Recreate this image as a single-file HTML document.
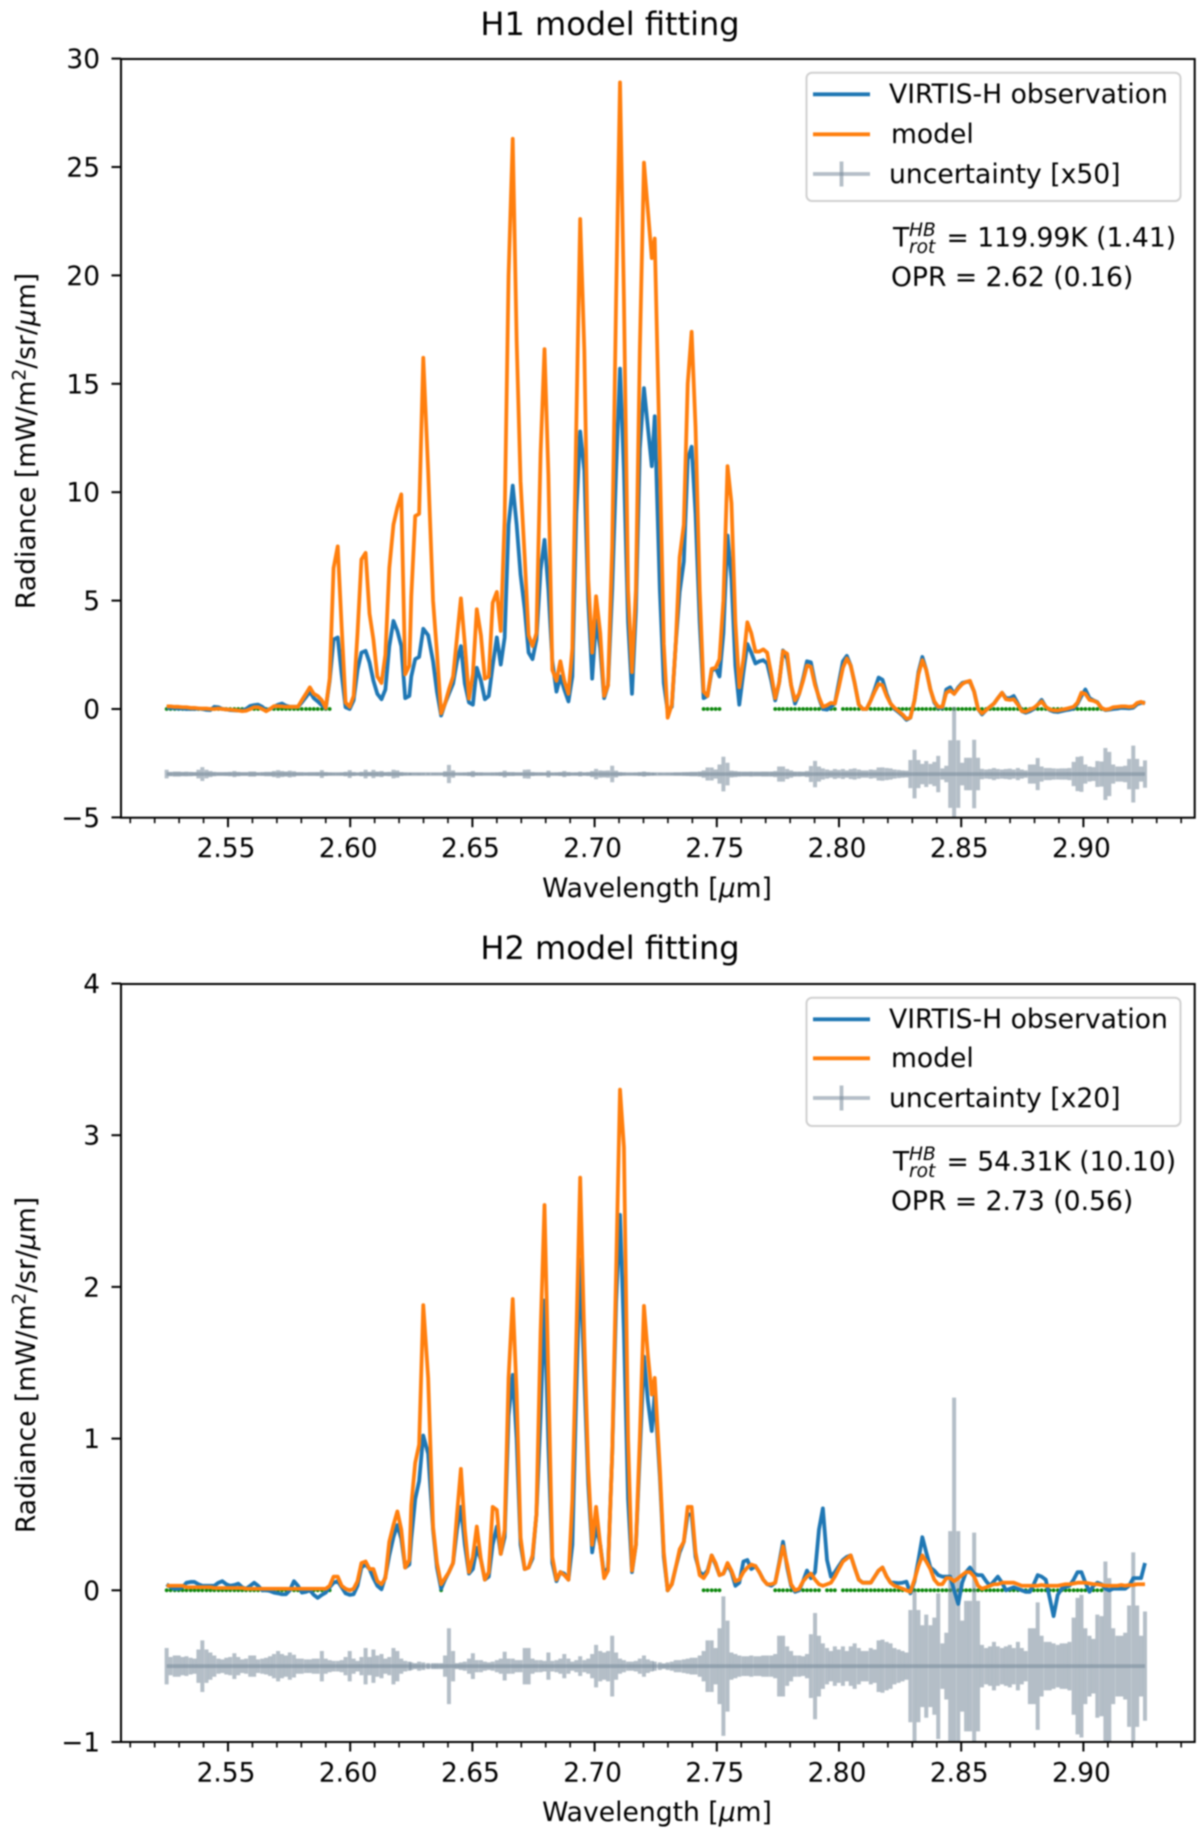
<!DOCTYPE html>
<html lang="en">
<head>
<meta charset="utf-8">
<title>H1 and H2 model fitting</title>
<style>
html,body{margin:0;padding:0;background:#fff;}
body{width:1200px;height:1840px;overflow:hidden;}
svg{display:block;filter:blur(0.7px);}
text{font-family:"DejaVu Sans","Liberation Sans",sans-serif;fill:#000;}
.tick-label{font-size:26.4px;}
.axis-label,.legend-text,.note{font-size:26.6px;}
.panel-title{font-size:32px;}
.sup{font-size:18.6px;font-style:italic;}
</style>
</head>
<body>
<svg id="figure" width="1200" height="1840" viewBox="0 0 1200 1840" xmlns="http://www.w3.org/2000/svg">
  <rect x="0" y="0" width="1200" height="1840" fill="#ffffff"/>
  <defs>
    <clipPath id="clip-h1"><rect x="121" y="59" width="1073.7" height="758.7"/></clipPath>
    <clipPath id="clip-h2"><rect x="121" y="984" width="1073.7" height="758"/></clipPath>
  </defs>

  <g id="panel-h1">
    <text class="panel-title" x="610" y="35" text-anchor="middle">H1 model fitting</text>
    <g id="h1-marks" clip-path="url(#clip-h1)"></g>
    <g id="h1-ticks"></g>
    <rect x="121" y="59" width="1073.7" height="758.7" fill="none" stroke="#000" stroke-width="2"/>
    <text class="axis-label" x="657" y="897" text-anchor="middle">Wavelength [<tspan font-style="italic">μ</tspan>m]</text>
    <text class="axis-label" transform="translate(35,441) rotate(-90)" text-anchor="middle">Radiance [mW/m<tspan dy="-9.5" font-size="18.6">2</tspan><tspan dy="9.5">/sr/</tspan><tspan font-style="italic">μ</tspan>m]</text>
    <g>
      <rect x="806.5" y="72.7" width="374" height="128.3" rx="5.5" ry="5.5" fill="#fff" stroke="#d0d0d0" stroke-width="2"/>
      <line x1="813" y1="94.3" x2="870" y2="94.3" stroke="#1f77b4" stroke-width="3.8"/>
      <text class="legend-text" x="889" y="103">VIRTIS-H observation</text>
      <line x1="813" y1="134.3" x2="870" y2="134.3" stroke="#ff7f0e" stroke-width="3.8"/>
      <text class="legend-text" x="891" y="143">model</text>
      <g stroke="#778899" stroke-opacity="0.55" stroke-width="3.8">
        <line x1="813" y1="174" x2="870" y2="174"/>
        <line x1="841.5" y1="161.5" x2="841.5" y2="186.5"/>
      </g>
      <text class="legend-text" x="889" y="183">uncertainty [x50]</text>
    </g>
    <g>
      <text class="note" x="893" y="246.5">T</text>
      <text class="sup" x="909" y="236">HB</text>
      <text class="sup" x="909" y="253">rot</text>
      <text class="note" x="946.5" y="246.5">= 119.99K (1.41)</text>
    </g>
    <text class="note" x="891" y="286">OPR = 2.62 (0.16)</text>
  </g>

  <g id="panel-h2">
    <text class="panel-title" x="610" y="959" text-anchor="middle">H2 model fitting</text>
    <g id="h2-marks" clip-path="url(#clip-h2)"></g>
    <g id="h2-ticks"></g>
    <rect x="121" y="984" width="1073.7" height="758" fill="none" stroke="#000" stroke-width="2"/>
    <text class="axis-label" x="657" y="1821" text-anchor="middle">Wavelength [<tspan font-style="italic">μ</tspan>m]</text>
    <text class="axis-label" transform="translate(35,1365) rotate(-90)" text-anchor="middle">Radiance [mW/m<tspan dy="-9.5" font-size="18.6">2</tspan><tspan dy="9.5">/sr/</tspan><tspan font-style="italic">μ</tspan>m]</text>
    <g>
      <rect x="806.5" y="997.7" width="374" height="128.3" rx="5.5" ry="5.5" fill="#fff" stroke="#d0d0d0" stroke-width="2"/>
      <line x1="813" y1="1019.3" x2="870" y2="1019.3" stroke="#1f77b4" stroke-width="3.8"/>
      <text class="legend-text" x="889" y="1028">VIRTIS-H observation</text>
      <line x1="813" y1="1058.3" x2="870" y2="1058.3" stroke="#ff7f0e" stroke-width="3.8"/>
      <text class="legend-text" x="891" y="1067">model</text>
      <g stroke="#778899" stroke-opacity="0.55" stroke-width="3.8">
        <line x1="813" y1="1098" x2="870" y2="1098"/>
        <line x1="841.5" y1="1085.5" x2="841.5" y2="1110.5"/>
      </g>
      <text class="legend-text" x="889" y="1107">uncertainty [x20]</text>
    </g>
    <g>
      <text class="note" x="893" y="1170.5">T</text>
      <text class="sup" x="909" y="1160">HB</text>
      <text class="sup" x="909" y="1177">rot</text>
      <text class="note" x="946.5" y="1170.5">= 54.31K (10.10)</text>
    </g>
    <text class="note" x="891" y="1210">OPR = 2.73 (0.56)</text>
  </g>
</svg>

<script>
const wavelengths = [
2.5249,2.5265,2.5282,2.5298,2.5314,2.5330,2.5347,2.5363,2.5379,2.5395,
2.5412,2.5428,2.5444,2.5461,2.5477,2.5493,2.5509,2.5526,2.5542,2.5558,
2.5574,2.5591,2.5607,2.5623,2.5640,2.5656,2.5672,2.5688,2.5705,2.5721,
2.5737,2.5753,2.5770,2.5786,2.5802,2.5819,2.5835,2.5851,2.5867,2.5884,
2.5900,2.5916,2.5932,2.5949,2.5965,2.5981,2.5998,2.6014,2.6030,2.6046,
2.6063,2.6079,2.6095,2.6111,2.6128,2.6144,2.6160,2.6177,2.6193,2.6209,
2.6225,2.6242,2.6250,2.6266,2.6282,2.6299,2.6319,2.6339,2.6355,2.6372,
2.6388,2.6404,2.6421,2.6437,2.6453,2.6469,2.6486,2.6502,2.6518,2.6535,
2.6551,2.6567,2.6583,2.6600,2.6616,2.6632,2.6648,2.6665,2.6681,2.6697,
2.6714,2.6730,2.6746,2.6762,2.6779,2.6795,2.6811,2.6827,2.6844,2.6860,
2.6876,2.6893,2.6909,2.6925,2.6941,2.6958,2.6974,2.6990,2.7006,2.7023,
2.7039,2.7055,2.7072,2.7088,2.7104,2.7120,2.7137,2.7153,2.7169,2.7185,
2.7202,2.7218,2.7234,2.7246,2.7267,2.7283,2.7299,2.7316,2.7332,2.7348,
2.7365,2.7381,2.7397,2.7413,2.7430,2.7446,2.7462,2.7479,2.7495,2.7511,
2.7527,2.7544,2.7560,2.7576,2.7592,2.7609,2.7625,2.7641,2.7658,2.7674,
2.7690,2.7706,2.7723,2.7739,2.7755,2.7771,2.7788,2.7804,2.7820,2.7837,
2.7853,2.7869,2.7885,2.7902,2.7918,2.7934,2.7951,2.7967,2.7983,2.7999,
2.8016,2.8032,2.8048,2.8064,2.8081,2.8097,2.8113,2.8130,2.8146,2.8162,
2.8178,2.8195,2.8211,2.8227,2.8244,2.8260,2.8276,2.8292,2.8309,2.8325,
2.8341,2.8357,2.8374,2.8390,2.8406,2.8423,2.8439,2.8455,2.8471,2.8488,
2.8504,2.8520,2.8536,2.8553,2.8569,2.8585,2.8602,2.8618,2.8634,2.8650,
2.8667,2.8683,2.8699,2.8715,2.8732,2.8748,2.8764,2.8781,2.8797,2.8813,
2.8829,2.8846,2.8862,2.8878,2.8895,2.8911,2.8927,2.8943,2.8960,2.8976,
2.8992,2.9008,2.9025,2.9041,2.9057,2.9074,2.9090,2.9106,2.9122,2.9139,
2.9155,2.9171,2.9187,2.9204,2.9220,2.9236,2.9252];

const h1Observation = [
.06,.05,.04,.02,.02,0,0,0,.02,0,
-.04,-.05,.1,.08,0,-.02,-.05,-.06,-.07,-.06,
0,.14,.18,.2,.1,-.05,0,.1,.2,.25,
.15,.1,.1,.1,.3,.55,.8,.5,.35,.17,
.03,1.3,3.2,3.3,1.6,.08,0,.4,1.8,2.6,
2.68,2.15,1.3,.7,.45,.9,2.9,4.06,3.6,2.9,
.5,.6,1.5,2.3,2.4,3.7,3.4,2.2,.8,-.3,
.25,.7,1.17,2.2,2.9,1.17,.3,.2,1.9,1.3,
.45,.6,2,3.3,2.05,3.3,8.5,10.3,8.5,6.2,
4.6,2.6,2.3,3.2,6.4,7.8,5.5,2.2,.8,1.5,
.9,.35,1.5,9,12.8,11,5,1.4,4.1,2.8,
.5,1.1,5.5,11,15.7,11,4,.7,4.5,12,
14.8,13,11.2,13.5,5.5,1.2,-.1,.1,3,5.4,
6.8,11.5,12.1,9,4,.5,.6,1.75,1.9,1.5,
3.5,8,6,2,.2,1.7,3,2.6,2.1,2.2,
2.25,2.1,1.3,.4,1.2,2.7,2.3,1.1,.25,.7,
1.4,2.2,2.15,1.2,.5,0,-.03,.1,.25,1.2,
2.2,2.45,2,1.2,.2,0,0,.4,.9,1.45,
1.35,.7,.25,0,-.15,-.3,-.5,-.4,.4,1.7,
2.4,1.8,.9,.3,.05,.05,.9,1,.7,1,
1.2,1.25,1.25,.8,0,-.25,-.05,.1,.25,.5,
.75,.5,.5,.6,.25,-.1,-.17,-.1,0,.2,
.42,.1,-.05,-.12,-.14,-.1,-.06,-.03,.02,.25,
.6,.9,.5,.4,.32,.05,-.05,-.03,0,.02,
.05,.04,.03,.06,.22,.28,.3];

const h1Model = [
.12,.12,.1,.1,.08,.08,.05,.05,.03,.02,
.02,0,0,.02,0,-.02,-.03,-.05,-.07,-.1,
-.08,0,.08,.08,0,-.1,0,.13,.13,.12,
.1,.1,.1,.1,.4,.7,1,.7,.6,.4,
.05,1.4,6.5,7.5,3.8,.3,.1,.6,3.5,6.9,
7.2,4.4,3.2,1.5,1.2,2.5,6.5,8.5,9.3,9.9,
1.6,2,5.2,8.9,9,16.2,11,5,2.6,-.2,
.25,.9,1.5,3.3,5.1,3,.48,1.6,4.6,3.4,
1.4,1.5,4.9,5.4,3.6,8.8,20,26.3,17,10.5,
7,3.4,2.9,3.5,11.8,16.6,10.8,1.8,1.3,2.2,
1.3,.7,2.8,13,22.6,16.5,6,2.6,5.2,3.5,
.6,1.1,7.5,18.9,28.9,18.9,5.5,1.7,5.5,16.5,
25.2,23,20.8,21.7,11.5,3,-.4,.2,3,7,
8.5,15,17.4,13,5.5,.8,.6,1.85,1.9,2.3,
5,11.2,9.5,4,1,2.3,4,3.5,2.65,2.65,
2.75,2.6,1.6,.5,1.2,2.67,2.55,1.1,.4,.7,
1.3,2,1.95,1.1,.55,.1,.17,.28,.25,1,
1.9,2.33,2,1.2,.2,0,0,.4,.8,1.15,
1.1,.6,.25,.05,-.1,-.25,-.45,-.4,.4,1.6,
2.25,1.8,.9,.35,.1,.1,.75,.85,.7,.95,
1.15,1.25,1.3,.8,0,-.2,-.05,.1,.25,.5,
.75,.45,.42,.45,.2,-.1,-.12,-.03,.05,.2,
.35,.1,-.02,-.06,-.07,-.03,0,.05,.1,.3,
.75,.7,.42,.38,.3,.05,-.03,0,.08,.1,
.12,.12,.1,.12,.28,.33,.25];

/* half-height of each error bar in plotted units, already multiplied by 50 */
const h1Uncertainty = [
.2,.1,.12,.12,.1,.11,.1,.09,.2,.32,
.2,.14,.1,.08,.08,.09,.1,.14,.1,.08,
.08,.12,.12,.07,.08,.1,.1,.14,.18,.14,
.12,.16,.13,.08,.08,.07,.08,.08,.09,.18,
.09,.07,.06,.06,.07,.1,.18,.09,.06,.1,
.2,.1,.19,.12,.14,.09,.1,.2,.17,.09,
.06,.05,.04,.04,.05,.04,.04,.04,.04,.04,
.13,.42,.17,.04,.05,.06,.09,.14,.07,.07,
.05,.05,.06,.07,.09,.16,.09,.09,.07,.07,
.2,.21,.09,.07,.07,.06,.16,.06,.07,.09,
.14,.09,.06,.07,.11,.07,.09,.14,.24,.17,
.16,.17,.38,.16,.09,.07,.05,.05,.06,.09,
.12,.08,.06,.05,.04,.03,.04,.05,.07,.07,
.08,.09,.1,.1,.12,.17,.3,.3,.21,.44,
.8,.52,.16,.14,.12,.11,.11,.12,.11,.11,
.12,.12,.12,.14,.35,.35,.23,.17,.12,.12,
.11,.14,.37,.61,.35,.26,.21,.17,.23,.19,
.23,.17,.23,.26,.21,.17,.17,.21,.19,.3,
.31,.28,.26,.21,.19,.17,.16,.65,1.12,.65,
.47,.6,.47,.56,.84,.26,.38,1.56,3.1,1.56,
.52,.75,.75,1.58,.75,.24,.21,.23,.28,.23,
.21,.23,.25,.21,.28,.21,.17,.44,.44,.74,
.35,.28,.28,.26,.25,.26,.26,.28,.56,.79,
.82,.44,.35,.32,.6,.58,1.2,1.02,.44,.35,
.35,.38,.7,1.31,.7,.35,.63];

const h1MaskRanges = [[2.5245,2.5920],[2.7295,2.7303],[2.7442,2.7515],[2.7735,2.7987],[2.8012,2.9078]];
const h1YTicks = [-5,0,5,10,15,20,25,30];
const h1YTickLabels = ['−5','0','5','10','15','20','25','30'];

const h2Observation = [
.04,.02,.01,.01,.02,.05,.055,.055,.04,.03,
.03,.03,.03,.05,.06,.04,.03,.035,.044,.02,
.01,.03,.05,.03,0,0,-.005,-.015,-.02,-.026,
-.026,0,.06,.03,-.015,-.01,0,-.03,-.05,-.03,
-.015,.02,.05,.06,.02,-.02,-.03,-.026,.03,.15,
.17,.14,.08,.03,.007,.09,.23,.35,.43,.34,
.15,.17,.34,.6,.72,1.02,.9,.4,.15,.01,
.07,.12,.18,.4,.55,.3,.11,.14,.28,.2,
.07,.09,.3,.42,.24,.35,1.15,1.42,1,.3,
.14,.15,.21,.5,1.15,1.91,.95,.18,.06,.12,
.11,.07,.3,1.3,2.18,1.4,.7,.25,.42,.3,
.1,.15,.9,1.9,2.475,1.7,.6,.12,.3,.9,
1.54,1.25,1.05,1.3,.75,.22,0,.04,.15,.25,
.32,.5,.5,.22,.12,.1,.13,.23,.17,.1,
.11,.17,.12,.03,.05,.19,.2,.14,.16,.12,
.07,.04,.03,.05,.18,.32,.15,.03,-.01,0,
.06,.13,.08,.12,.4,.54,.2,.09,.12,.16,
.2,.22,.23,.15,.07,.05,.05,.05,.09,.13,
.15,.09,.05,.05,.047,.05,.057,-.02,.06,.2,
.35,.25,.15,.13,.1,.09,.09,.09,0,-.09,
.05,.12,.15,.11,.1,.1,.06,.03,.06,.09,
.05,0,.01,.02,.01,0,-.01,-.01,.04,.1,
.09,.07,-.05,-.17,-.03,.01,.02,.03,.07,.12,
.12,.05,-.01,.03,.05,.04,.01,0,.01,.01,
.01,.01,.03,.08,.08,.08,.18];

const h2Model = [
.03,.03,.03,.03,.03,.02,.02,.02,.02,.02,
.02,.02,.015,.015,.015,.015,.015,.015,.015,.015,
.01,.01,.01,.01,.01,.01,.01,.01,.01,.01,
.01,.01,.01,.01,.01,.01,.01,.01,.01,.01,
.01,.03,.09,.09,.03,.01,0,.01,.06,.18,
.19,.14,.14,.06,.04,.08,.32,.43,.52,.4,
.15,.2,.56,.84,.96,1.88,1.4,.42,.18,.04,
.08,.12,.18,.5,.8,.4,.12,.22,.42,.2,
.07,.12,.55,.53,.24,.4,1.4,1.92,1.3,.35,
.14,.15,.23,.5,1.7,2.54,1.4,.22,.07,.12,
.1,.07,.6,1.65,2.72,1.65,.8,.3,.55,.3,
.08,.13,.9,2.1,3.3,2.92,1,.13,.3,1,
1.875,1.55,1.29,1.4,.8,.25,0,.04,.15,.27,
.32,.55,.55,.25,.1,.08,.12,.23,.18,.1,
.11,.18,.13,.06,.07,.12,.15,.17,.16,.12,
.07,.04,.04,.05,.17,.29,.17,.04,0,.01,
.06,.09,.11,.07,.04,.03,.04,.05,.09,.14,
.19,.21,.23,.15,.07,.05,.05,.05,.09,.13,
.15,.09,.05,.03,.02,.01,0,-.01,.07,.16,
.23,.19,.14,.07,.04,.04,.08,.08,.06,.08,
.1,.12,.12,.09,.03,.01,.02,.03,.04,.04,
.05,.05,.05,.05,.04,.03,.03,.03,.03,.03,
.035,.03,.03,.03,.03,.035,.04,.04,.045,.05,
.05,.05,.045,.04,.04,.035,.03,.03,.03,.03,
.035,.03,.035,.035,.04,.04,.04];

/* half-height of each error bar in plotted units, already multiplied by 20 */
const h2Uncertainty = [
.12,.06,.07,.07,.06,.065,.055,.05,.11,.17,
.11,.09,.07,.05,.045,.055,.06,.085,.06,.045,
.05,.07,.07,.045,.05,.055,.065,.08,.1,.08,
.07,.09,.075,.05,.05,.045,.045,.05,.05,.1,
.05,.04,.035,.035,.04,.06,.1,.05,.035,.06,
.12,.06,.11,.07,.08,.05,.06,.12,.1,.05,
.035,.03,.025,.02,.03,.025,.02,.02,.02,.02,
.07,.25,.1,.02,.025,.03,.05,.085,.04,.04,
.03,.025,.03,.04,.05,.095,.05,.05,.04,.04,
.12,.12,.05,.04,.04,.035,.09,.035,.04,.05,
.08,.05,.03,.04,.065,.04,.05,.08,.14,.1,
.09,.1,.2,.09,.05,.04,.03,.03,.035,.05,
.07,.045,.035,.03,.025,.018,.025,.03,.04,.04,
.045,.05,.055,.055,.07,.1,.17,.17,.12,.25,
.46,.3,.09,.08,.07,.065,.065,.07,.065,.065,
.07,.07,.07,.08,.2,.2,.13,.1,.07,.07,
.065,.08,.21,.35,.2,.15,.12,.1,.13,.11,
.13,.1,.13,.15,.12,.1,.1,.12,.11,.17,
.175,.16,.15,.12,.11,.1,.09,.37,.5,.37,
.27,.34,.27,.32,.48,.15,.22,.89,1.77,.89,
.3,.43,.43,.88,.43,.14,.12,.13,.16,.13,
.12,.13,.14,.12,.16,.12,.1,.25,.25,.42,
.2,.16,.16,.15,.14,.15,.15,.16,.32,.45,
.47,.25,.2,.18,.34,.33,.69,.58,.25,.2,
.2,.22,.4,.75,.4,.2,.36];

const h2MaskRanges = [[2.5245,2.5920],[2.6368,2.6376],[2.7295,2.7303],[2.7442,2.7515],[2.7735,2.7922],[2.7947,2.7987],[2.8012,2.9078]];
const h2YTicks = [-1,0,1,2,3,4];
const h2YTickLabels = ['−1','0','1','2','3','4'];

const xMajorTicks = [2.55,2.60,2.65,2.70,2.75,2.80,2.85,2.90];
const xMajorTickLabels = ['2.55','2.60','2.65','2.70','2.75','2.80','2.85','2.90'];
const xMinorTicks = [2.51,2.52,2.53,2.54,2.56,2.57,2.58,2.59,2.61,2.62,2.63,2.64,2.66,2.67,2.68,2.69,2.71,2.72,2.73,2.74,2.76,2.77,2.78,2.79,2.81,2.82,2.83,2.84,2.86,2.87,2.88,2.89,2.91,2.92,2.93,2.94];

const SVG_NS = 'http://www.w3.org/2000/svg';

function xScale(wavelength) {
  return 228 + (wavelength - 2.55) * 2444;
}
function h1Y(value) {
  return 709 - value * 21.68;
}
function h2Y(value) {
  return 1590.3 - value * 151.7;
}

function shape(tag, attrs, parent) {
  const el = document.createElementNS(SVG_NS, tag);
  for (const key in attrs) el.setAttribute(key, attrs[key]);
  parent.appendChild(el);
  return el;
}

function linePath(values, yScale) {
  return values.map(function (v, i) {
    return (i ? 'L' : 'M') + xScale(wavelengths[i]).toFixed(2) + ' ' + yScale(v).toFixed(2);
  }).join('');
}

function drawTicks(group, yScale, axisBottom, yTicks, yLabels) {
  xMinorTicks.forEach(function (t) {
    const x = xScale(t);
    const el = shape('line', {x1: x, x2: x, y1: axisBottom, y2: axisBottom + 5.5, stroke: '#000', 'stroke-width': 1.6}, group);
    
    
  });
  xMajorTicks.forEach(function (t, i) {
    const x = xScale(t);
    const el = shape('line', {x1: x, x2: x, y1: axisBottom, y2: axisBottom + 9.5, stroke: '#000', 'stroke-width': 2}, group);
    
    
    const label = shape('text', {x: x - 2, y: axisBottom + 39.5, 'text-anchor': 'middle', 'class': 'tick-label'}, group);
    
    
    label.textContent = xMajorTickLabels[i];
  });
  yTicks.forEach(function (t, i) {
    const y = yScale(t);
    const el = shape('line', {x1: 111.5, x2: 121, y1: y, y2: y, stroke: '#000', 'stroke-width': 2}, group);
    
    
    const label = shape('text', {x: 100, y: y + 9.5, 'text-anchor': 'end', 'class': 'tick-label'}, group);
    
    
    label.textContent = yLabels[i];
  });
}

function drawMarks(group, yScale, observation, model, uncertainty, center, maskRanges, axisMin, axisMax) {
  wavelengths.forEach(function (w) {
    const masked = maskRanges.some(function (r) { return w >= r[0] && w <= r[1]; });
    if (!masked) return;
    const dot = shape('circle', {cx: xScale(w), cy: yScale(0), r: 1.9, fill: '#0a860a'}, group);
    
    
  });

  uncertainty.forEach(function (u, i) {
    const x = xScale(wavelengths[i]);
    const top = Math.min(center + u, axisMax);
    const bottom = Math.max(center - u, axisMin);
    const bar = shape('line', {x1: x, x2: x, y1: yScale(top), y2: yScale(bottom), stroke: '#778899', 'stroke-opacity': 0.55, 'stroke-width': 4}, group);
    
    
  });

  const centerLine = shape('line', {x1: xScale(wavelengths[0]), x2: xScale(wavelengths[wavelengths.length - 1]), y1: yScale(center), y2: yScale(center), stroke: '#778899', 'stroke-opacity': 0.55, 'stroke-width': 3.7}, group);
  
  

  const obsLine = shape('path', {d: linePath(observation, yScale), fill: 'none', stroke: '#1f77b4', 'stroke-width': 3.8, 'stroke-linejoin': 'round'}, group);
  
  

  const modelLine = shape('path', {d: linePath(model, yScale), fill: 'none', stroke: '#ff7f0e', 'stroke-width': 3.8, 'stroke-linejoin': 'round'}, group);
  
  
}

drawMarks(document.getElementById('h1-marks'), h1Y, h1Observation, h1Model, h1Uncertainty, -3, h1MaskRanges, -5, 30);
drawTicks(document.getElementById('h1-ticks'), h1Y, 817.7, h1YTicks, h1YTickLabels);
drawMarks(document.getElementById('h2-marks'), h2Y, h2Observation, h2Model, h2Uncertainty, -0.5, h2MaskRanges, -1, 4);
drawTicks(document.getElementById('h2-ticks'), h2Y, 1742, h2YTicks, h2YTickLabels);
</script>
</body>
</html>
